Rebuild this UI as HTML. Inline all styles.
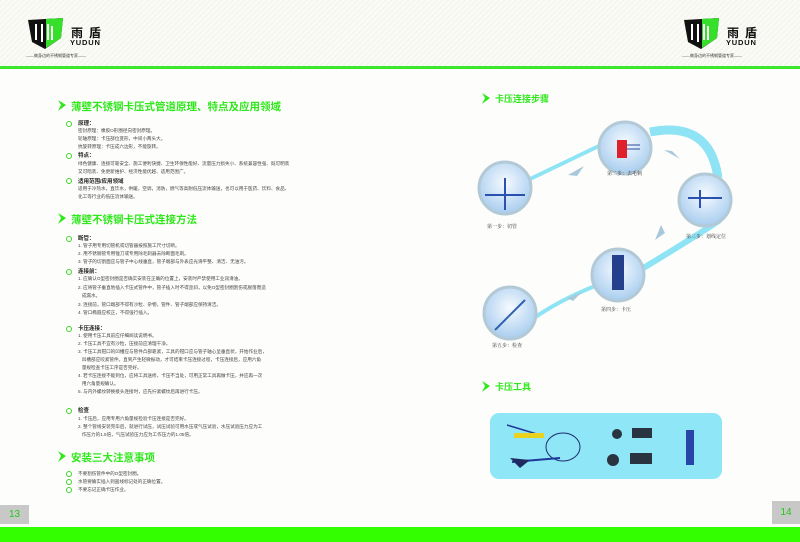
<!DOCTYPE html>
<html><head><meta charset="utf-8"><style>
*{margin:0;padding:0}
body{width:800px;height:542px;position:relative;overflow:hidden;background:#fdfefc;font-family:"Liberation Sans","Noto Sans CJK SC",sans-serif;color:#333}
.a{position:absolute;white-space:nowrap}
.t{font-size:4.6px;line-height:8px;color:#444}
.h{font-size:5.5px;font-weight:bold;color:#222}
.g{font-size:10.5px;color:#2ee81a;font-weight:bold}
.bul{position:absolute;width:4px;height:4px;border:1.5px solid #3dd82a;border-radius:50%}
.cap{font-size:5px;color:#333;font-family:"Liberation Serif","Noto Serif CJK SC",serif}
.lg{font-size:12px;font-weight:bold;letter-spacing:6px;color:#111}
.yd{font-size:7.5px;font-weight:bold;letter-spacing:.8px;color:#111}
</style></head><body>
<div class="a" style="left:0;top:0;width:800px;height:67px;background:repeating-linear-gradient(135deg,#f4f6ef 0 2px,#fbfcf8 2px 4px)"></div>
<div class="a" style="left:0;top:66px;width:800px;height:3px;background:#3ee62e"></div>
<div class="a" style="left:0;top:527px;width:800px;height:15px;background:#33ff00"></div>
<div class="a" style="left:0;top:505px;width:29px;height:19px;background:#c8c8c8;color:#22c814;font-size:10px;line-height:19px;text-align:center">13</div>
<div class="a" style="left:772px;top:501px;width:28px;height:23px;background:#c8c8c8;color:#22c814;font-size:10px;line-height:23px;text-align:center">14</div>

<svg class="a" style="left:0;top:0" width="800" height="542">
<g transform="translate(28,18)"><path d="M0 2 L35 0 L33 20 L17 31 L4 24 Z" fill="#111"/><path d="M18 1 L35 0 L33 20 L18 30 Z" fill="#36e02a"/><path d="M8 6 L8 22 M14 6 L14 24 M20 6 L20 22 M24 8 L24 22" stroke="#fff" stroke-width="2"/></g>
<g transform="translate(684,18)"><path d="M0 2 L35 0 L33 20 L17 31 L4 24 Z" fill="#111"/><path d="M18 1 L35 0 L33 20 L18 30 Z" fill="#36e02a"/><path d="M8 6 L8 22 M14 6 L14 24 M20 6 L20 22 M24 8 L24 22" stroke="#fff" stroke-width="2"/></g>
<g fill="#2ee81a"><path d="M58 100 L66 105 L58 111 L61 105Z"/><path d="M58 213 L66 218 L58 224 L61 218Z"/><path d="M58 451 L66 456 L58 462 L61 456Z"/><path d="M482 93 L490 98 L482 104 L485 98Z"/><path d="M482 381 L490 386 L482 392 L485 386Z"/></g>
<g fill="none" stroke="#8ee4f4"><path d="M528 180 Q570 160 603 144" stroke-width="4"/><path d="M650 132 Q710 120 718 178" stroke-width="9"/><path d="M720 220 Q690 240 640 270" stroke-width="6"/><path d="M595 286 Q560 300 534 318" stroke-width="4"/></g>
<g fill="#a8c8dc"><path d="M568 175 L584 166 L577 176Z"/><path d="M664 150 L680 159 L672 151 Z"/><path d="M661 225 L655 240 L665 233Z"/><path d="M567 298 L582 292 L573 301Z"/></g>
<defs><radialGradient id="c" cx="50%" cy="40%" r="60%"><stop offset="0" stop-color="#f6faff"/><stop offset="1" stop-color="#a8cdef"/></radialGradient></defs>
<g stroke="#b3c9d6" stroke-width="3" fill="url(#c)"><circle cx="505" cy="188" r="26"/><circle cx="625" cy="148" r="26"/><circle cx="705" cy="200" r="26"/><circle cx="618" cy="275" r="26"/><circle cx="510" cy="313" r="26"/></g>
<rect x="617" y="140" width="10" height="18" fill="#e0202a"/><path d="M627 145 H640 M627 149 H640" stroke="#2a4a9a"/>
<path d="M485 195 H525 M505 178 V210" stroke="#2a50b0" stroke-width="2"/>
<path d="M688 198 H722 M700 190 V208" stroke="#2a50b0" stroke-width="2"/>
<rect x="612" y="255" width="12" height="35" fill="#24408c"/>
<path d="M495 330 L525 300" stroke="#3060b0" stroke-width="2"/>
<rect x="490" y="413" width="232" height="66" rx="9" fill="#8ee6f6"/>
<path d="M507 425 L540 435" stroke="#1e3a9a" stroke-width="1.5"/><rect x="514" y="433" width="30" height="5" fill="#e8d21e"/>
<ellipse cx="563" cy="447" rx="17" ry="14" fill="none" stroke="#1e2a70" stroke-width="1"/>
<path d="M512 462 L560 458" stroke="#1e3a9a" stroke-width="2"/><path d="M510 458 L520 468 L530 460" fill="#1e2a60"/>
<g fill="#2a3340"><circle cx="617" cy="434" r="5"/><rect x="632" y="428" width="20" height="10"/><circle cx="613" cy="460" r="6"/><rect x="630" y="453" width="22" height="11"/><rect x="686" y="430" width="8" height="35" fill="#2846a8"/></g>
</svg>
<div class="a lg" style="left:71px;top:24px">雨盾</div>
<div class="a yd" style="left:70px;top:38px">YUDUN</div>
<div class="a" style="left:26px;top:53px;font-size:4px">——做身边的不锈钢管道专家——</div>
<div class="a lg" style="left:727px;top:24px">雨盾</div>
<div class="a yd" style="left:726px;top:38px">YUDUN</div>
<div class="a" style="left:682px;top:53px;font-size:4px">——做身边的不锈钢管道专家——</div>

<div class="a g" style="left:71px;top:99px">薄壁不锈钢卡压式管道原理、特点及应用领域</div>
<div class="bul" style="left:66px;top:121px"></div><div class="a h" style="left:78px;top:119px">原理：</div>
<div class="a t" style="left:78px;top:127px">密封原理：橡胶O形圈径向密封原理。<br>轮轴原理：卡压部位变形，中间小两头大。<br>抗旋转原理：卡压成六边形，不能旋转。</div>
<div class="bul" style="left:66px;top:153px"></div><div class="a h" style="left:78px;top:151px">特点：</div>
<div class="a t" style="left:78px;top:160px">绿色健康、连接可靠安全、施工便利快捷、卫生环保性能好、流量压力损失小、系统兼容性强、既可明装<br>又可暗装、免更新维护、经济性能优越、适用范围广。</div>
<div class="bul" style="left:66px;top:178px"></div><div class="a h" style="left:78px;top:177px">适用范围/应用领域</div>
<div class="a t" style="left:78px;top:185px">适用于冷热水，直饮水，供暖，空调，消防，燃气等高耐低压流体输送，也可以用于医药、饮料、食品、<br>化工等行业的低压流体输送。</div>

<div class="a g" style="left:71px;top:212px">薄壁不锈钢卡压式连接方法</div>
<div class="bul" style="left:66px;top:236px"></div><div class="a h" style="left:78px;top:234px">断管：</div>
<div class="a t" style="left:78px;top:242px">1. 管子用专用切管机或切管器按照施工尺寸切断。<br>2. 用不锈钢管专用锉刀或专用除毛刺器去除断面毛刺。<br>3. 管子的切割面应与管子中心线垂直，管子端部与外表应光滑平整、清洁、无油污。</div>
<div class="bul" style="left:66px;top:269px"></div><div class="a h" style="left:78px;top:267px">连接前：</div>
<div class="a t" style="left:78px;top:275px;line-height:8.5px">1. 应确认O型密封圈是否确实安装在正确的位置上，安装时严禁使用工业润滑油。<br>2. 应将管子垂直地插入卡压式管件中，管子插入时不得歪斜，以免O型密封圈割伤或脱落而造<br>&nbsp;&nbsp;&nbsp;成漏水。<br>3. 连接前，管口端部不得有沙粒、杂物，管件、管子端部应保持清洁。<br>4. 管口椭圆应校正，不得强行插入。</div>
<div class="bul" style="left:66px;top:326px"></div><div class="a h" style="left:78px;top:324px">卡压连接：</div>
<div class="a t" style="left:78px;top:332px">1. 使用卡压工具前应仔细阅读说明书。<br>2. 卡压工具不宜有沙粒，压接前应清理干净。<br>3. 卡压工具钳口的凹槽应与管件凸部靠紧，工具的钳口应与管子轴心呈垂直状，开始作业后，<br>&nbsp;&nbsp;&nbsp;凹槽部应咬紧管件，直到产生轻微振动，才可结束卡压连接过程，卡压连接后，应用六角<br>&nbsp;&nbsp;&nbsp;量规检查卡压工序是否完好。<br>4. 若卡压连接不能到位，应将工具送修，卡压不当处，可用正常工具再做卡压，并应再一次<br>&nbsp;&nbsp;&nbsp;用六角量规确认。<br>5. 与内外螺纹转换接头连接时，应先拧紧螺纹后再进行卡压。</div>
<div class="bul" style="left:66px;top:408px"></div><div class="a h" style="left:78px;top:406px">检查</div>
<div class="a t" style="left:78px;top:415px">1. 卡压后，应用专用六角量规检验卡压连接是否完好。<br>2. 整个管线安装完毕后，就进行试压，试压试验可用水压或气压试验，水压试验压力应为工<br>&nbsp;&nbsp;&nbsp;作压力的1.5倍，气压试验压力应为工作压力的1.05倍。</div>

<div class="a g" style="left:71px;top:450px">安装三大注意事项</div>
<div class="bul" style="left:66px;top:471px"></div><div class="a t" style="left:78px;top:470px">不要割伤管件中的O型密封圈。</div>
<div class="bul" style="left:66px;top:479px"></div><div class="a t" style="left:78px;top:478px">水管要确实插入到画线标记处的正确位置。</div>
<div class="bul" style="left:66px;top:487px"></div><div class="a t" style="left:78px;top:486px">不要忘记正确卡压作业。</div>

<div class="a g" style="left:495px;top:92px;font-size:9px">卡压连接步骤</div>
<div class="a g" style="left:495px;top:380px;font-size:9px">卡压工具</div>
<div class="a cap" style="left:487px;top:223px">第一步：切管</div>
<div class="a cap" style="left:607px;top:170px">第二步：去毛刺</div>
<div class="a cap" style="left:686px;top:233px">第三步：划线定位</div>
<div class="a cap" style="left:601px;top:306px">第四步：卡压</div>
<div class="a cap" style="left:492px;top:342px">第五步：检查</div>
</body></html>
